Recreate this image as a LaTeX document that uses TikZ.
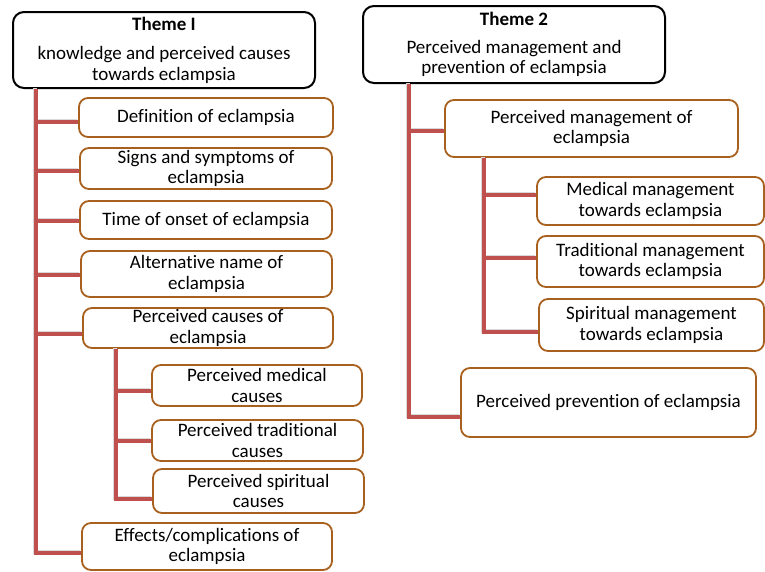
\documentclass[tikz,border=0pt]{standalone}
\usepackage{fontspec}
\setmainfont[Ligatures=NoCommon]{Carlito}
\definecolor{linered}{HTML}{C0504D}
\definecolor{boxbrown}{HTML}{A8601E}
\begin{document}
\begin{tikzpicture}[x=1pt,y=-1pt,
  every node/.style={font=\fontsize{19}{20.5}\selectfont, align=center, inner sep=0pt},
  cbox/.style={draw=boxbrown, line width=1.8pt, rounded corners=9pt, fill=white},
  tbox/.style={draw=black, line width=2pt, rounded corners=11pt, fill=white},
  conn/.style={draw=linered, line width=3.5pt,
     preaction={draw=black!15, line width=3.5pt, transform canvas={xshift=-1pt,yshift=1pt}}}
]
\useasboundingbox (0,0) rectangle (765,571);

% Theme 1
\node[tbox, minimum width=302pt, minimum height=76pt] (t1) at (164,50)
  {\textbf{Theme I}\\[9pt]knowledge and perceived causes\\towards eclampsia};
\coordinate (r1) at ([xshift=24pt]t1.south west);

\node[cbox, minimum width=254pt, minimum height=39pt] (def) at (206,117.5) {Definition of eclampsia};
\node[cbox, minimum width=252pt, minimum height=41pt] (sig) at (206,168.5) {Signs and symptoms of\\eclampsia};
\node[cbox, minimum width=252pt, minimum height=38pt] (tim) at (206,220) {Time of onset of eclampsia};
\node[cbox, minimum width=251pt, minimum height=46pt] (alt) at (206.5,274) {Alternative name of\\eclampsia};
\node[cbox, minimum width=250pt, minimum height=40pt] (cau) at (208,328) {Perceived causes of\\eclampsia};
\coordinate (r2) at ([xshift=34pt]cau.south west);
\node[cbox, minimum width=210pt, minimum height=41pt] (med) at (257,385.5) {Perceived medical\\causes};
\node[cbox, minimum width=211pt, minimum height=41pt] (tra) at (257.5,440.5) {Perceived traditional\\causes};
\node[cbox, minimum width=211pt, minimum height=44pt] (spi) at (258.5,491) {Perceived spiritual\\causes};
\node[cbox, minimum width=250pt, minimum height=47pt] (eff) at (207,546.5) {Effects/complications of\\eclampsia};

% Theme 2
\node[tbox, minimum width=302pt, minimum height=77pt] (t2) at (514,44.5)
  {\textbf{Theme 2}\\[7pt]Perceived management and\\prevention of eclampsia};
\coordinate (r3) at ([xshift=47pt]t2.south west);
\node[cbox, minimum width=293pt, minimum height=57pt] (pm) at (591.5,128.5) {Perceived management of\\eclampsia};
\coordinate (r4) at ([xshift=40pt]pm.south west);
\node[cbox, minimum width=227pt, minimum height=48pt] (mm) at (650.5,201) {Medical management\\towards eclampsia};
\node[cbox, minimum width=227pt, minimum height=51pt] (tm) at (650.5,261.5) {Traditional management\\towards eclampsia};
\node[cbox, minimum width=225pt, minimum height=52pt] (sm) at (651.5,325) {Spiritual management\\towards eclampsia};
\node[cbox, minimum width=295pt, minimum height=69pt] (pv) at (608.5,402.5) {Perceived prevention of eclampsia};

% connectors (branch offset below the box centre, in pt)
\foreach \c/\d in {eff/6.5,def/4.5,sig/2.5,tim/1,alt/1,cau/6}
  \draw[conn] (r1) |- ([yshift=-\d pt]\c.west);
\foreach \c/\d in {spi/8,med/5.5,tra/0.5}
  \draw[conn] (r2) |- ([yshift=-\d pt]\c.west);
\foreach \c/\d in {pv/14.5,pm/2.5}
  \draw[conn] (r3) |- ([yshift=-\d pt]\c.west);
\foreach \c/\d in {sm/7,mm/-6,tm/-3.5}
  \draw[conn] (r4) |- ([yshift=-\d pt]\c.west);
\end{tikzpicture}
\end{document}
